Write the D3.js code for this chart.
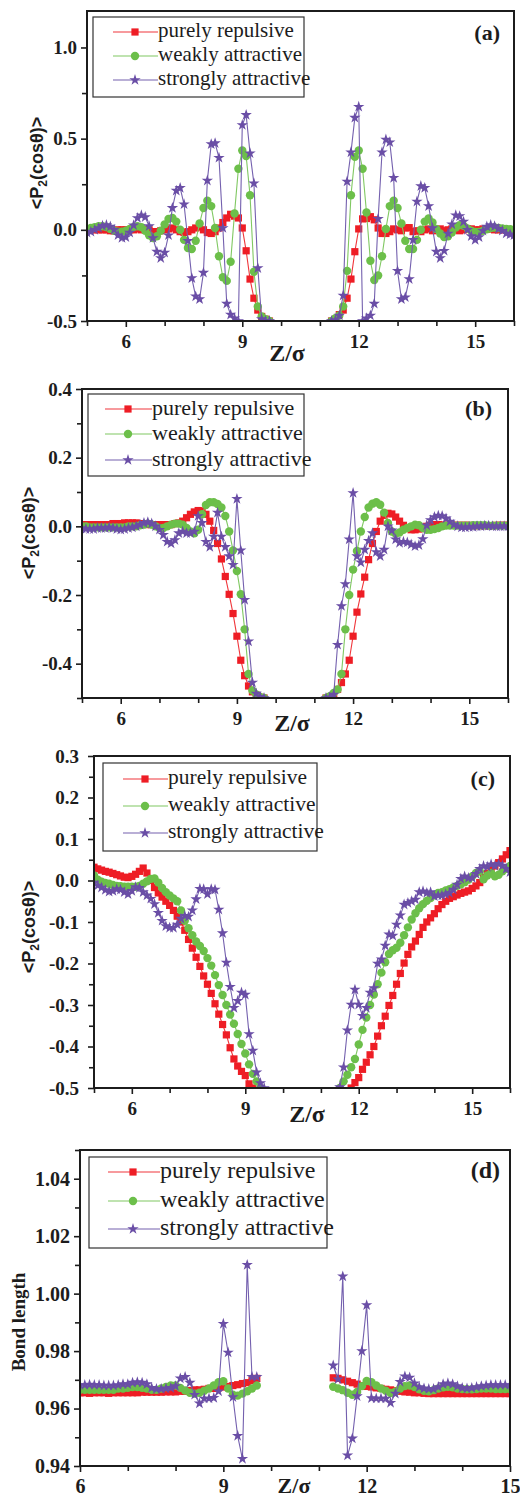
<!DOCTYPE html>
<html>
<head>
<meta charset="utf-8">
<title>P2 order parameter and bond length profiles</title>
<script src="https://d3js.org/d3.v7.min.js"></script>
<style>
  body { margin: 0; background: #fff; }
  text { fill: #1c1c1c; }
</style>
</head>
<body>
<div id="chart"></div>
<script>
// sampling positions along Z/sigma (the middle of the slab is empty)
const zGrid = [5.0,5.1,5.2,5.3,5.4,5.5,5.6,5.7,5.8,5.9,
  6.0,6.1,6.2,6.3,6.4,6.5,6.6,6.7,6.8,6.9,
  7.0,7.1,7.2,7.3,7.4,7.5,7.6,7.7,7.8,7.9,
  8.0,8.1,8.2,8.3,8.4,8.5,8.6,8.7,8.8,8.9,
  9.0,9.1,9.2,9.3,9.4,9.5,9.6,9.7,
  11.3,11.4,11.5,11.6,11.7,11.8,11.9,
  12.0,12.1,12.2,12.3,12.4,12.5,12.6,12.7,12.8,12.9,
  13.0,13.1,13.2,13.3,13.4,13.5,13.6,13.7,13.8,13.9,
  14.0,14.1,14.2,14.3,14.4,14.5,14.6,14.7,14.8,14.9,
  15.0,15.1,15.2,15.3,15.4,15.5,15.6,15.7,15.8,15.9,
  16.0];
const zGridD = [6.0,6.1,6.2,6.3,6.4,6.5,6.6,6.7,6.8,6.9,
  7.0,7.1,7.2,7.3,7.4,7.5,7.6,7.7,7.8,7.9,
  8.0,8.1,8.2,8.3,8.4,8.5,8.6,8.7,8.8,8.9,
  9.0,9.1,9.2,9.3,9.4,9.5,9.6,9.7,
  11.3,11.4,11.5,11.6,11.7,11.8,11.9,
  12.0,12.1,12.2,12.3,12.4,12.5,12.6,12.7,12.8,12.9,
  13.0,13.1,13.2,13.3,13.4,13.5,13.6,13.7,13.8,13.9,
  14.0,14.1,14.2,14.3,14.4,14.5,14.6,14.7,14.8,14.9,
  15.0];

const seriesNames = ["purely repulsive", "weakly attractive", "strongly attractive"];
const panelTags = ["(a)", "(b)", "(c)", "(d)"];

// ---- panel (a) <P2(cos theta)> ----
const aRed = [0,0,0,0,0,0,-0.005,-0.005,0,0,
  0,0,0,0.005,0,0,0,-0.01,-0.01,-0.005,
  0,0.005,0.01,0,-0.01,-0.015,-0.01,0,0.01,0.015,
  0,-0.015,-0.02,-0.01,0.01,0.04,0.065,0.085,0.075,0.065,
  0.01,-0.115,-0.27,-0.375,-0.44,-0.475,-0.49,-0.5,
  -0.5,-0.49,-0.465,-0.44,-0.375,-0.27,-0.12,
  0.005,0.06,0.062,0.072,0.055,0.01,-0.02,-0.02,-0.01,0.005,
  0,-0.005,0.01,0.012,-0.01,-0.005,-0.01,0,0.005,-0.005,
  0,0.005,-0.005,0,0.005,0,-0.005,0,0.005,0.005,
  0,0,0.005,0.005,0.005,0,0,0,0,0,
  0];
const aGreen = [0.005,0.01,0.015,0.02,0.02,0.015,0.005,-0.005,-0.01,-0.01,
  -0.005,0.005,0.015,0.02,0.015,-0.005,-0.03,-0.045,-0.035,-0.005,
  0.03,0.06,0.065,0.045,0,-0.055,-0.1,-0.105,-0.06,0.035,
  0.12,0.16,0.13,0.01,-0.145,-0.26,-0.28,-0.175,0.09,0.335,
  0.435,0.405,0.19,-0.23,-0.42,-0.475,-0.49,-0.5,
  -0.5,-0.485,-0.47,-0.42,-0.225,0.19,0.4,
  0.435,0.335,0.095,-0.17,-0.275,-0.25,-0.145,0.005,0.13,0.16,
  0.12,0.035,-0.06,-0.105,-0.105,-0.055,0,0.045,0.062,0.04,
  0.005,-0.02,-0.04,-0.035,-0.015,0.012,0.026,0.022,0.008,-0.005,
  -0.012,-0.012,-0.005,0.003,0.01,0.013,0.01,0.008,0.005,0.003,
  0];
const aStar = [-0.015,-0.01,0,0.01,0.022,0.026,0.018,0,-0.03,-0.045,
  -0.04,-0.015,0.025,0.065,0.08,0.07,0.02,-0.045,-0.12,-0.155,
  -0.125,-0.03,0.12,0.215,0.23,0.14,-0.06,-0.265,-0.365,-0.38,
  -0.235,0.27,0.47,0.475,0.395,0.01,-0.405,-0.465,-0.485,-0.5,
  0.575,0.63,0.42,0.255,-0.21,-0.49,-0.5,-0.5,
  -0.5,-0.495,-0.47,-0.36,0.265,0.425,0.615,
  0.675,-0.5,-0.485,-0.47,-0.405,0.06,0.425,0.495,0.48,0.285,
  -0.225,-0.38,-0.37,-0.27,-0.055,0.155,0.24,0.23,0.13,0.01,
  -0.12,-0.155,-0.115,-0.02,0.03,0.08,0.075,0.045,0,-0.035,
  -0.055,-0.04,-0.005,0.018,0.026,0.02,0.005,-0.005,-0.02,-0.025,
  -0.03];

// ---- panel (b) ----
const bRed = [0.005,0.005,0.005,0.005,0.005,0.005,0.005,0.005,0.008,0.008,
  0.008,0.01,0.01,0.01,0.01,0.008,0.008,0.005,0.005,0.005,
  0.005,0.005,0.005,0.005,0.008,0.01,0.015,0.025,0.035,0.042,
  0.046,0.045,0.035,0.015,-0.012,-0.05,-0.095,-0.146,-0.198,-0.254,
  -0.32,-0.39,-0.435,-0.465,-0.482,-0.492,-0.498,-0.5,
  -0.5,-0.497,-0.49,-0.475,-0.455,-0.43,-0.39,
  -0.32,-0.25,-0.197,-0.148,-0.097,-0.05,-0.015,0.015,0.032,0.038,
  0.036,0.027,0.015,0.003,-0.005,-0.01,-0.01,-0.008,-0.005,0,
  0.003,0.005,0.005,0.004,0.003,0.003,0.003,0.003,0.003,0.003,
  0.003,0.002,0.002,0.002,0.002,0.002,0.002,0.003,0.003,0.003,
  0.003];
const bGreen = [0,0,-0.003,-0.003,-0.003,-0.003,-0.003,-0.003,-0.003,-0.003,
  -0.003,-0.003,0,0,0,0.003,0.005,0.008,0.005,0,
  -0.005,-0.005,0,0.005,0.008,0.008,0.005,-0.005,-0.015,-0.02,
  -0.01,0.035,0.062,0.07,0.07,0.065,0.055,0.03,-0.015,-0.07,
  -0.13,-0.198,-0.3,-0.43,-0.478,-0.49,-0.497,-0.5,
  -0.5,-0.495,-0.485,-0.475,-0.43,-0.3,-0.2,
  -0.126,-0.072,-0.015,0.027,0.055,0.066,0.07,0.063,0.04,0.01,
  -0.015,-0.022,-0.018,-0.01,-0.005,0,0.005,0.003,-0.005,-0.01,
  -0.01,-0.008,-0.005,0,0.002,0.002,0.002,0.002,0.002,0.002,
  0.002,0.003,0.003,0.003,0.003,0.002,0.002,0.002,0.002,0.002,
  0.002];
const bStar = [-0.005,-0.008,-0.008,-0.008,-0.005,-0.005,-0.005,-0.003,-0.005,-0.008,
  -0.01,-0.008,-0.005,-0.003,0,0.005,0.01,0.012,0.008,0,
  -0.01,-0.025,-0.045,-0.05,-0.04,-0.02,-0.015,-0.02,-0.02,-0.015,
  0.03,0.01,-0.045,-0.06,-0.03,0.04,-0.03,-0.06,-0.087,-0.112,
  0.08,-0.07,-0.214,-0.335,-0.455,-0.487,-0.497,-0.5,
  -0.5,-0.498,-0.49,-0.345,-0.232,-0.168,-0.038,
  0.097,-0.087,-0.105,-0.068,-0.042,-0.02,-0.075,-0.087,-0.068,0,
  -0.012,-0.038,-0.048,-0.045,-0.047,-0.053,-0.058,-0.055,-0.037,0.003,
  0.018,0.027,0.031,0.03,0.023,0.014,0.005,0,-0.003,-0.003,
  -0.002,-0.002,0,0,0.002,0.002,0,0,0,0,
  0];

// ---- panel (c) ----
const cRed = [0.032,0.028,0.025,0.022,0.02,0.017,0.014,0.011,0.008,0.007,
  0.01,0.015,0.022,0.03,0.018,0,-0.017,-0.03,-0.04,-0.05,
  -0.06,-0.072,-0.086,-0.1,-0.12,-0.142,-0.163,-0.185,-0.207,-0.23,
  -0.25,-0.272,-0.297,-0.322,-0.347,-0.372,-0.403,-0.43,-0.447,-0.46,
  -0.47,-0.49,-0.5,null,null,null,null,null,
  null,null,null,null,null,-0.5,-0.487,
  -0.475,-0.455,-0.438,-0.42,-0.4,-0.375,-0.35,-0.327,-0.301,-0.277,
  -0.25,-0.224,-0.199,-0.178,-0.16,-0.146,-0.13,-0.113,-0.1,-0.09,
  -0.08,-0.068,-0.058,-0.05,-0.043,-0.039,-0.035,-0.031,-0.028,-0.025,
  -0.019,-0.013,-0.005,0.007,0.017,0.027,0.035,0.043,0.052,0.062,
  0.072];
const cGreen = [0.012,0.002,-0.003,-0.006,-0.008,-0.011,-0.013,-0.014,-0.015,-0.015,
  -0.015,-0.015,-0.013,-0.008,-0.002,0.004,0.005,-0.005,-0.018,-0.028,
  -0.036,-0.043,-0.05,-0.072,-0.097,-0.115,-0.132,-0.147,-0.158,-0.17,
  -0.187,-0.205,-0.228,-0.252,-0.276,-0.3,-0.323,-0.345,-0.37,-0.394,
  -0.417,-0.443,-0.466,-0.484,-0.5,null,null,null,
  null,null,-0.5,-0.484,-0.468,-0.45,-0.43,
  -0.395,-0.36,-0.33,-0.3,-0.275,-0.25,-0.222,-0.197,-0.177,-0.168,
  -0.162,-0.15,-0.132,-0.113,-0.094,-0.079,-0.067,-0.057,-0.049,-0.042,
  -0.035,-0.03,-0.028,-0.024,-0.021,-0.017,-0.013,-0.009,-0.004,0.002,
  0.01,0.018,0.022,0.003,0.012,0.018,0.01,0.014,0.022,0.028,
  0.035];
const cStar = [-0.005,-0.012,-0.017,-0.023,-0.027,-0.025,-0.021,-0.022,-0.028,-0.033,
  -0.025,-0.016,-0.018,-0.028,-0.036,-0.044,-0.057,-0.078,-0.097,-0.11,
  -0.114,-0.114,-0.106,-0.092,-0.085,-0.087,-0.072,-0.045,-0.02,-0.021,
  -0.033,-0.021,-0.022,-0.07,-0.127,-0.198,-0.256,-0.307,-0.29,-0.27,
  -0.275,-0.37,-0.41,-0.462,-0.488,-0.5,null,null,
  null,null,-0.498,-0.45,-0.361,-0.299,-0.263,
  -0.299,-0.326,-0.307,-0.27,-0.259,-0.2,-0.19,-0.157,-0.13,-0.133,
  -0.106,-0.084,-0.058,-0.054,-0.05,-0.046,-0.028,-0.026,-0.03,-0.028,
  -0.038,-0.036,-0.036,-0.033,-0.03,-0.022,-0.01,0.004,0.01,0.006,
  0.006,0.016,0.028,0.035,0.033,0.039,0.035,0.04,0.036,0.028,
  0.02];

// ---- panel (d) bond length ----
const dRed = [0.9655,0.9655,0.9653,0.9655,0.9655,0.9655,0.9653,0.9655,0.9655,0.9655,
  0.9655,0.9655,0.9655,0.9657,0.9657,0.9657,0.9657,0.9657,0.9658,0.9658,
  0.9658,0.966,0.966,0.9663,0.9665,0.9665,0.9667,0.967,0.967,0.9672,
  0.9675,0.9677,0.968,0.9683,0.9687,0.969,0.9697,0.9705,
  0.9707,0.9705,0.97,0.9695,0.969,0.9685,0.968,
  0.9677,0.9675,0.9672,0.967,0.9667,0.9665,0.9662,0.966,0.9658,0.9657,
  0.9655,0.9655,0.9653,0.9652,0.9652,0.9652,0.9652,0.9652,0.9652,0.9652,
  0.9652,0.9652,0.9652,0.9652,0.9652,0.9652,0.9652,0.9652,0.9652,0.9652,
  0.9652];
const dGreen = [0.9665,0.9665,0.9665,0.9665,0.9665,0.9665,0.9665,0.9665,0.967,0.967,
  0.9672,0.9675,0.9675,0.9672,0.967,0.9665,0.9665,0.967,0.9675,0.968,
  0.968,0.9672,0.9663,0.9655,0.9652,0.9655,0.9662,0.967,0.968,0.9692,
  0.9695,0.967,0.9648,0.9645,0.9652,0.966,0.967,0.968,
  0.9676,0.967,0.9664,0.9655,0.9648,0.9658,0.9678,
  0.9696,0.9692,0.968,0.967,0.9662,0.9654,0.9659,0.967,0.9678,0.968,
  0.9675,0.9667,0.9662,0.966,0.9664,0.967,0.9674,0.9676,0.9674,0.967,
  0.9668,0.9667,0.9667,0.9668,0.967,0.967,0.967,0.9668,0.9668,0.9668,
  0.9668];
const dStar = [0.9682,0.9682,0.9683,0.9682,0.9682,0.968,0.968,0.968,0.9682,0.9685,
  0.9685,0.969,0.9692,0.969,0.9685,0.9672,0.9668,0.9668,0.967,0.9672,
  0.9678,0.9705,0.971,0.969,0.9648,0.9618,0.9635,0.9635,0.9637,0.966,
  0.9895,0.9795,0.964,0.9505,0.9425,1.01,0.971,0.971,
  0.975,0.9702,1.006,0.9437,0.9496,0.9643,0.98,
  0.996,0.9636,0.9635,0.9635,0.9635,0.962,0.9652,0.9693,0.9712,0.9708,
  0.9688,0.9675,0.967,0.9668,0.9668,0.9675,0.9685,0.9688,0.9685,0.9678,
  0.9672,0.967,0.9672,0.9675,0.9678,0.968,0.9682,0.9682,0.9682,0.9682,
  0.9682];

// tick values and their labels
const xTicksMajor = [6, 9, 12, 15];
const xTickLabels = ["6", "9", "12", "15"];
const yTicksA = [-0.5, 0, 0.5, 1.0];
const yLabelsA = ["-0.5", "0.0", "0.5", "1.0"];
const yTicksB = [-0.4, -0.2, 0, 0.2, 0.4];
const yLabelsB = ["-0.4", "-0.2", "0.0", "0.2", "0.4"];
const yTicksC = [-0.5, -0.4, -0.3, -0.2, -0.1, 0, 0.1, 0.2, 0.3];
const yLabelsC = ["-0.5", "-0.4", "-0.3", "-0.2", "-0.1", "0.0", "0.1", "0.2", "0.3"];
const yTicksD = [0.94, 0.96, 0.98, 1.00, 1.02, 1.04];
const yLabelsD = ["0.94", "0.96", "0.98", "1.00", "1.02", "1.04"];

const colors = ["#ee1d25", "#6cbf4a", "#6a4ea6"];
const lineColors = ["#f0373c", "#80c862", "#7460ae"];
const serif = "'Liberation Serif', 'Times New Roman', serif";
const sans = "'Liberation Sans', Arial, sans-serif";

const panels = [
  {key: "a", left: 87, right: 514, top: 11, bottom: 321, xDom: [5, 16], yDom: [-0.5, 1.2],
   z: zGrid, vals: [aRed, aGreen, aStar], yMajor: yTicksA, yLab: yLabelsA, yMinorStep: 0.25,
   tickFont: 19, pad: 4, ytitle: "p2", ytx: 43, yty: 163, ztx: 287, zty: 361, zfs: 24, tagX: 500, tagY: 40, tagFs: 22,
   leg: {x0: 93, y0: 17, x1: 304, y1: 97, lx0: 113, lx1: 158, mx: 135, tx: 158, rows: [32, 56, 80], fs: 21}},
  {key: "b", left: 82, right: 508, top: 389, bottom: 698, xDom: [5, 16], yDom: [-0.5, 0.4],
   z: zGrid, vals: [bRed, bGreen, bStar], yMajor: yTicksB, yLab: yLabelsB, yMinorStep: 0.1,
   tickFont: 19, pad: 4, ytitle: "p2", ytx: 35, yty: 533, ztx: 292, zty: 731, zfs: 24, tagX: 492, tagY: 416, tagFs: 22,
   leg: {x0: 88, y0: 394, x1: 304, y1: 476, lx0: 105, lx1: 152, mx: 128, tx: 152, rows: [409, 434, 460], fs: 22}},
  {key: "c", left: 94, right: 510, top: 756, bottom: 1088, xDom: [5, 16], yDom: [-0.5, 0.3],
   z: zGrid, vals: [cRed, cGreen, cStar], yMajor: yTicksC, yLab: yLabelsC, yMinorStep: 0.05,
   tickFont: 19, pad: 9, ytitle: "p2", ytx: 35, yty: 927, ztx: 307, zty: 1122, zfs: 24, tagX: 495, tagY: 786, tagFs: 22,
   leg: {x0: 103, y0: 763, x1: 317, y1: 851, lx0: 123, lx1: 168, mx: 145, tx: 168, rows: [779, 806, 833], fs: 21.5}},
  {key: "d", left: 80, right: 510, top: 1150, bottom: 1466, xDom: [6, 15], yDom: [0.94, 1.05],
   z: zGridD, vals: [dRed, dGreen, dStar], yMajor: yTicksD, yLab: yLabelsD, yMinorStep: 0.01,
   tickFont: 20, pad: 4, ytitle: "Bond length", ytx: 25, yty: 1322, ztx: 294, zty: 1493, zfs: 22, tagX: 500, tagY: 1178, tagFs: 24,
   leg: {x0: 89, y0: 1157, x1: 327, y1: 1248, lx0: 108, lx1: 160, mx: 133, tx: 160, rows: [1172, 1201, 1229], fs: 24}}
];

const svg = d3.select("#chart").append("svg")
    .attr("width", 520)
    .attr("height", 1500);

const starSym = d3.symbol().type(d3.symbolStar).size(40);

function drawMarker(sel, k, cx, cy) {
  if (k === 0) {
    sel.append("rect").attr("x", cx - 3.6).attr("y", cy - 3.6)
      .attr("width", 7.2).attr("height", 7.2).attr("fill", colors[0]);
  } else if (k === 1) {
    sel.append("circle").attr("cx", cx).attr("cy", cy).attr("r", 4.2).attr("fill", colors[1]);
  } else {
    sel.append("path").attr("d", starSym).attr("transform", `translate(${cx},${cy})`)
      .attr("fill", colors[2]);
  }
}

function toPoints(z, v) {
  const pts = [];
  z.forEach((zz, i) => {
    if (i > 0 && zz - z[i - 1] > 0.5) pts.push(null);
    pts.push(v[i] == null ? null : [zz, v[i]]);
  });
  return pts;
}

panels.forEach((p, pi) => {
  const x = d3.scaleLinear().domain(p.xDom).range([p.left, p.right]);
  const y = d3.scaleLinear().domain(p.yDom).range([p.bottom, p.top]);
  const g = svg.append("g");

  const clipId = "clip-" + p.key;
  svg.append("clipPath").attr("id", clipId)
    .append("rect").attr("x", p.left).attr("y", p.top)
    .attr("width", p.right - p.left).attr("height", p.bottom - p.top);

  // minor + major ticks on x
  const xMinor = d3.range(Math.ceil(p.xDom[0]), p.xDom[1] + 0.001, 1).filter(d => !xTicksMajor.includes(d));
  g.append("g").attr("transform", `translate(0,${p.bottom})`)
    .call(d3.axisBottom(x).tickValues(xMinor).tickSize(5).tickFormat(""));
  const gx = g.append("g").attr("transform", `translate(0,${p.bottom})`)
    .call(d3.axisBottom(x).tickValues(xTicksMajor).tickSize(6)
      .tickFormat(d => xTickLabels[xTicksMajor.indexOf(d)]));
  gx.selectAll("text").attr("y", 27).attr("dy", null);

  // y ticks (minor ones stay inside the domain)
  const n = Math.round((p.yDom[1] - p.yDom[0]) / p.yMinorStep);
  const yMinor = d3.range(0, n + 1).map(i => +(p.yDom[0] + i * p.yMinorStep).toFixed(4))
    .filter(d => d <= p.yDom[1] + 1e-9)
    .filter(d => !p.yMajor.some(m => Math.abs(m - d) < 1e-6));
  g.append("g").attr("transform", `translate(${p.left},0)`)
    .call(d3.axisLeft(y).tickValues(yMinor).tickSize(5).tickFormat(""));
  g.append("g").attr("transform", `translate(${p.left},0)`)
    .call(d3.axisLeft(y).tickValues(p.yMajor).tickSize(6).tickPadding(p.pad)
      .tickFormat(d => p.yLab[p.yMajor.indexOf(d)]));

  g.selectAll(".domain").remove();
  g.selectAll(".tick line").attr("stroke", "#1c1c1c").attr("stroke-width", 1.6);
  g.selectAll(".tick text")
    .attr("font-family", serif).attr("font-weight", "bold")
    .attr("font-size", p.tickFont).attr("fill", "#1c1c1c");

  // data
  const plot = svg.append("g").attr("clip-path", `url(#${clipId})`);
  const line = d3.line().defined(d => d != null).x(d => x(d[0])).y(d => y(d[1]));
  p.vals.forEach((vals, k) => {
    const pts = toPoints(p.z, vals);
    plot.append("path").datum(pts)
      .attr("d", line).attr("fill", "none")
      .attr("stroke", lineColors[k]).attr("stroke-width", 1.1);
    const mg = plot.append("g");
    pts.filter(d => d != null).forEach(d => drawMarker(mg, k, x(d[0]), y(d[1])));
  });

  // frame
  svg.append("rect").attr("x", p.left).attr("y", p.top)
    .attr("width", p.right - p.left).attr("height", p.bottom - p.top)
    .attr("fill", "none").attr("stroke", "#1c1c1c").attr("stroke-width", 2);

  // legend
  const L = p.leg;
  const lg = svg.append("g");
  lg.append("rect").attr("x", L.x0).attr("y", L.y0)
    .attr("width", L.x1 - L.x0).attr("height", L.y1 - L.y0)
    .attr("fill", "#fff").attr("stroke", "#333").attr("stroke-width", 1.2);
  seriesNames.forEach((name, k) => {
    const ry = L.rows[k];
    lg.append("line").attr("x1", L.lx0).attr("x2", L.lx1).attr("y1", ry).attr("y2", ry)
      .attr("stroke", lineColors[k]).attr("stroke-width", 1.1);
    drawMarker(lg, k, L.mx, ry);
    lg.append("text").attr("x", L.tx).attr("y", ry + L.fs * 0.25)
      .attr("font-family", serif).attr("font-size", L.fs)
      .text(name);
  });

  // panel tag
  svg.append("text").attr("x", p.tagX).attr("y", p.tagY)
    .attr("text-anchor", "end").attr("font-family", serif)
    .attr("font-weight", "bold").attr("font-size", p.tagFs)
    .text(panelTags[pi]);

  // axis titles
  svg.append("text").attr("x", p.ztx).attr("y", p.zty)
    .attr("text-anchor", "middle").attr("font-family", serif)
    .attr("font-weight", "bold").attr("font-size", p.zfs)
    .text("Z/σ");

  const yt = svg.append("text")
    .attr("transform", `translate(${p.ytx},${p.yty}) rotate(-90)`)
    .attr("text-anchor", "middle").attr("font-weight", "bold");
  if (p.ytitle === "p2") {
    yt.attr("font-family", sans).attr("font-size", 18);
    yt.append("tspan").text("<P");
    yt.append("tspan").attr("font-size", 12).attr("dy", 4).text("2");
    yt.append("tspan").attr("dy", -4).text("(cosθ)>");
  } else {
    yt.attr("font-family", serif).attr("font-size", 19).text(p.ytitle);
  }
});
</script>
</body>
</html>
